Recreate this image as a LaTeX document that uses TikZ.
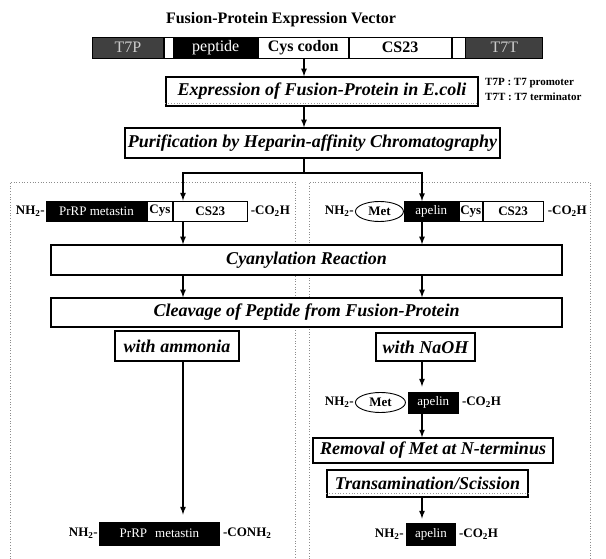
\documentclass[tikz,border=0pt]{standalone}
\usepackage{fontspec}
\setmainfont{Liberation Serif}
\usetikzlibrary{positioning,shapes.geometric}
\tikzset{>=latex}
\tikzset{
  stepbox/.style = {draw, line width=1.3pt, fill=white, inner sep=0pt,
    font=\fontsize{18}{20}\selectfont\bfseries\itshape},
  seg/.style = {draw, line width=0.9pt, inner sep=0pt, minimum height=21pt,
    font=\fontsize{16}{18}\selectfont},
  darkseg/.style = {seg, fill=black, text=white},
  whiteseg/.style = {seg, fill=white, font=\fontsize{16}{18}\selectfont\bfseries},
  greyseg/.style = {seg, fill=black!75, text=black!20},
  endtext/.style = {inner sep=1pt, font=\fontsize{13}{14}\selectfont\bfseries},
  metoval/.style = {ellipse, draw, line width=0.9pt, inner sep=0pt,
    minimum height=20pt, font=\fontsize{13}{14}\selectfont\bfseries},
  arrow/.style = {->, line width=1.6pt},
  panel/.style = {black!45, dotted, line width=0.7pt},
  shadow/.style = {black!40, dotted, line width=0.8pt}
}

\begin{document}
\begin{tikzpicture}[x=1pt,y=-1pt]
  \useasboundingbox (0,0) rectangle (606,559);
  % panels
  \draw[panel] (10,559) -- (10,182) -- (295,182) -- (295,559);
  \draw[panel] (309,559) -- (309,182) -- (590,182) -- (590,559);
  % vector
  \node[font=\fontsize{16}{18}\selectfont\bfseries] (title) at (281,20) {Fusion-Protein Expression Vector};
  \node[greyseg, anchor=west, minimum width=71pt] (t7p) at (92,47.5) {T7P};
  \node[whiteseg, minimum width=9pt, right=0pt of t7p] (gapa) {};
  \node[darkseg, minimum width=83pt, right=0pt of gapa] (pep) {peptide};
  \node[whiteseg, minimum width=90pt, right=0pt of pep] (cysc) {Cys codon};
  \node[whiteseg, minimum width=102pt, right=0pt of cysc] (csv) {CS23\hspace{30pt}};
  \node[whiteseg, minimum width=13pt, right=0pt of csv] (gapb) {};
  \node[greyseg, minimum width=77pt, right=0pt of gapb] (t7t) {T7T};
  \coordinate (spine) at (304,0);
  \coordinate (split) at (304,173);
  \coordinate (lcol) at (183,0);
  \coordinate (rcol) at (422,0);
  % legend
  \node[endtext, anchor=west, font=\fontsize{11}{12}\selectfont\bfseries] at (484,83) {T7P : T7 promoter};
  \node[endtext, anchor=west, font=\fontsize{11}{12}\selectfont\bfseries] at (484,97) {T7T : T7 terminator};
  % common steps
  \node[stepbox, minimum width=312pt, minimum height=29pt] (expr) at (322,91.5) {Expression of Fusion-Protein in E.coli};
  \draw[shadow] ([yshift=3pt]expr.south west) -- ([yshift=3pt]expr.south east);
  \node[stepbox, minimum width=375pt, minimum height=30pt] (purif) at (312.5,143) {Purification by Heparin-affinity Chromatography};
  \draw[arrow] (cysc.south -| spine) -- (expr.north -| spine);
  \draw[arrow] (expr.south -| spine) -- (purif.north -| spine);
  \draw[line width=1.6pt] (purif.south -| spine) -- (split);
  % left fusion protein
  \node[darkseg, anchor=west, minimum width=100pt, minimum height=20pt,
    font=\fontsize{13}{14}\selectfont] (lmet) at (46,211) {PrRP metastin};
  \node[endtext, left=0pt of lmet] (lnh) {NH\textsubscript{2}-};
  \node[whiteseg, minimum width=25pt, minimum height=20pt, right=0pt of lmet,
    font=\fontsize{13}{14}\selectfont\bfseries] (lcys) {Cys};
  \node[whiteseg, minimum width=74pt, minimum height=20pt, right=0pt of lcys,
    font=\fontsize{13}{14}\selectfont\bfseries] (lcs) {CS23};
  \node[endtext, right=2pt of lcs] (lco) {-CO\textsubscript{2}H};
  % right fusion protein
  \node[metoval, anchor=west, minimum width=48pt] (rmet) at (355,211.5) {Met};
  \node[endtext, left=0pt of rmet] (rnh) {NH\textsubscript{2}-};
  \node[darkseg, minimum width=54pt, minimum height=20pt, right=0pt of rmet,
    font=\fontsize{13}{14}\selectfont] (rapl) {apelin};
  \node[whiteseg, minimum width=23pt, minimum height=20pt, right=0pt of rapl,
    font=\fontsize{13}{14}\selectfont\bfseries] (rcys) {Cys};
  \node[whiteseg, minimum width=60pt, minimum height=20pt, right=0pt of rcys,
    font=\fontsize{13}{14}\selectfont\bfseries] (rcs) {CS23};
  \node[endtext, right=3pt of rcs] (rco) {-CO\textsubscript{2}H};
  \draw[arrow,<->] (lcs.north -| lcol) -- (split -| lcol) -- (split -| rcol) -- (rapl.north -| rcol);
  % cyanylation and cleavage
  \node[stepbox, minimum width=511pt, minimum height=30pt] (cyan) at (306.5,260) {Cyanylation Reaction};
  \node[stepbox, minimum width=511pt, minimum height=29pt] (cleav) at (306.5,312.5) {Cleavage of Peptide from Fusion-Protein};
  \draw[arrow] (lcs.south -| lcol) -- (cyan.north -| lcol);
  \draw[arrow] (rcs.south -| rcol) -- (cyan.north -| rcol);
  \draw[arrow] (cyan.south -| lcol) -- (cleav.north -| lcol);
  \draw[arrow] (cyan.south -| rcol) -- (cleav.north -| rcol);
  \node[stepbox, minimum width=124pt, minimum height=30pt] (amm) at (177,346) {with ammonia};
  \node[stepbox, minimum width=99pt, minimum height=28pt] (naoh) at (425.5,347) {with NaOH};
  % left product
  \node[darkseg, anchor=west, minimum width=120pt, minimum height=23pt,
    font=\fontsize{13}{14}\selectfont] (lprod) at (99,533.5) {PrRP\hspace{8pt}metastin};
  \node[endtext, left=0pt of lprod] (lpnh) {NH\textsubscript{2}-};
  \node[endtext, right=2pt of lprod] (lpco) {-CONH\textsubscript{2}};
  \draw[arrow, shorten >=7pt] (amm.south -| lcol) -- (lprod.north -| lcol);
  % right intermediate and product
  \node[metoval, anchor=west, minimum width=50pt] (imet) at (355,402.5) {Met};
  \node[endtext, left=0pt of imet] (inh) {NH\textsubscript{2}-};
  \node[darkseg, minimum width=50pt, minimum height=21pt, right=2pt of imet,
    font=\fontsize{13}{14}\selectfont] (iapl) {apelin};
  \node[endtext, right=2pt of iapl] (ico) {-CO\textsubscript{2}H};
  \draw[arrow, shorten >=5pt] (naoh.south -| rcol) -- (iapl.north -| rcol);
  \node[stepbox, minimum width=240pt, minimum height=25pt] (remov) at (433,450.5) {Removal of Met at N-terminus};
  \node[stepbox, minimum width=201pt, minimum height=27pt] (trans) at (427.5,483.5) {Transamination/Scission};
  \draw[shadow] ([yshift=4pt]trans.south west) -- ([yshift=4pt]trans.south east);
  \draw[arrow] (iapl.south -| rcol) -- (remov.north -| rcol);
  \node[darkseg, anchor=west, minimum width=49pt, minimum height=22pt,
    font=\fontsize{13}{14}\selectfont] (rprod) at (406,534) {apelin};
  \node[endtext, left=1pt of rprod] (rpnh) {NH\textsubscript{2}-};
  \node[endtext, right=2pt of rprod] (rpco) {-CO\textsubscript{2}H};
  \draw[arrow, shorten >=4pt] (trans.south -| rcol) -- (rprod.north -| rcol);
\end{tikzpicture}
\end{document}
